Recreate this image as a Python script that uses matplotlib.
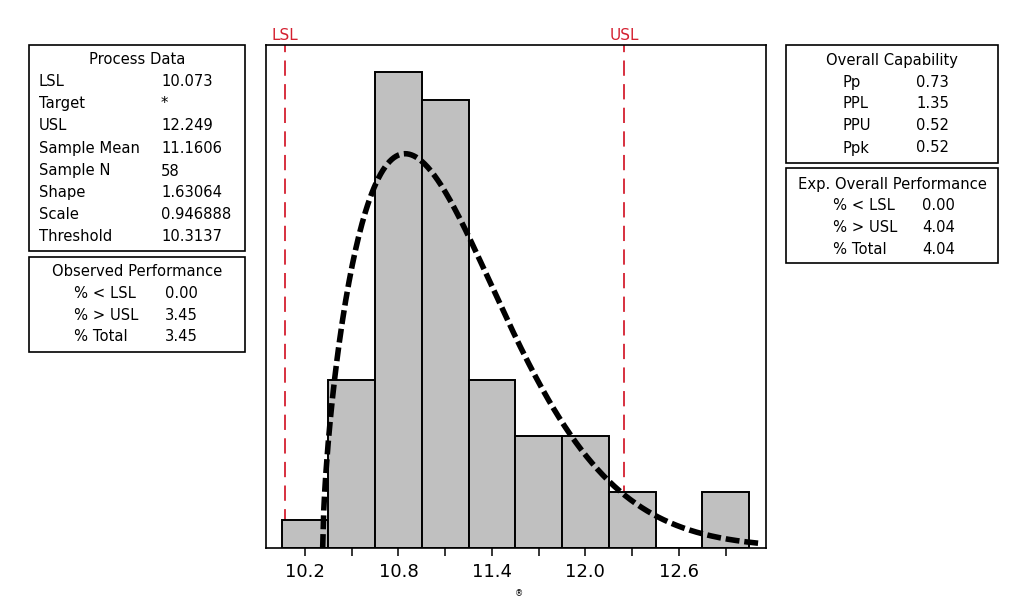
import numpy as np
import matplotlib
matplotlib.use("Agg")
import matplotlib.pyplot as plt
from matplotlib.patches import Rectangle
from matplotlib.ticker import FixedLocator

plt.rcParams['font.family'] = ['DejaVu Sans']
plt.rcParams['lines.scale_dashes'] = False

# ---- data ----
bin_centers = [10.2, 10.5, 10.8, 11.1, 11.4, 11.7, 12.0, 12.3, 12.6, 12.9]
counts = [1, 6, 17, 16, 6, 4, 4, 2, 0, 2]
bin_width = 0.3
LSL = 10.073
USL = 12.249
sample_n = 58
shape = 1.63064
scale = 0.946888
threshold = 10.3137
major_ticks = [10.2, 10.8, 11.4, 12.0, 12.6]
minor_ticks = [10.5, 11.1, 11.7, 12.3, 12.9]

process_labels = ["LSL", "Target", "USL", "Sample Mean", "Sample N", "Shape", "Scale", "Threshold"]
process_values = ["10.073", "*", "12.249", "11.1606", "58", "1.63064", "0.946888", "10.3137"]
obs_labels = ["% < LSL", "% > USL", "% Total"]
obs_values = ["0.00", "3.45", "3.45"]
cap_labels = ["Pp", "PPL", "PPU", "Ppk"]
cap_values = ["0.73", "1.35", "0.52", "0.52"]
exp_labels = ["% < LSL", "% > USL", "% Total"]
exp_values = ["0.00", "4.04", "4.04"]

W, H = 1032, 614
fig = plt.figure(figsize=(W / 100, H / 100), dpi=100)

def fx(px):
    return px / W

def fy(py):
    return 1 - py / H

ax_l, ax_r, ax_t, ax_b = 266, 766, 44.5, 548
ax = fig.add_axes([fx(ax_l), fy(ax_b), fx(ax_r - ax_l), (ax_b - ax_t) / H])

ax.bar(bin_centers, counts, width=bin_width, color="#C0C0C0", edgecolor="black",
       linewidth=1.4, zorder=2)

red = "#D42030"
for v in (LSL, USL):
    ax.axvline(v, color=red, lw=1.3, dashes=(11, 6), zorder=1)

xs = np.linspace(threshold + 1e-6, 13.12, 400)
z = (xs - threshold) / scale
pdf = (shape / scale) * z ** (shape - 1) * np.exp(-z ** shape)
ax.plot(np.concatenate([[threshold], xs]), np.concatenate([[0], pdf * sample_n * bin_width]),
        color="black", lw=4.0, dashes=(10, 3.5), zorder=3)

ax.set_xlim(9.95, 13.159)
ax.set_ylim(0, 18.0)
ax.set_yticks([])
ax.xaxis.set_major_locator(FixedLocator(major_ticks))
ax.xaxis.set_minor_locator(FixedLocator(minor_ticks))
ax.set_xticklabels([f"{t:.1f}" for t in major_ticks])
ax.tick_params(axis="x", which="both", direction="out", length=5.5, width=1.1,
               labelsize=13, pad=5)
for s in ax.spines.values():
    s.set_linewidth(1.2)

# LSL / USL labels
for v, lab in ((LSL, "LSL"), (USL, "USL")):
    ax.text(v, 18.0 + 0.05, lab, color=red, fontsize=11, ha="center", va="bottom",
            transform=ax.transData, clip_on=False)

# ---- text boxes ----
def box(x0, y0, x1, y1):
    fig.patches.append(Rectangle((fx(x0), fy(y1)), fx(x1 - x0), (y1 - y0) / H,
                                 transform=fig.transFigure, fill=False,
                                 edgecolor="black", linewidth=1.2))

def txt(x, y, s, ha="left", size=10.6):
    fig.text(fx(x), fy(y), s, ha=ha, va="center", fontsize=size)

# Process Data
box(29, 45, 245, 251)
txt(137, 60, "Process Data", ha="center")
rows_y = [81.7, 103.3, 126, 148.3, 171, 192.7, 214.3, 236.7]
for yy, l, v in zip(rows_y, process_labels, process_values):
    txt(39, yy, l)
    txt(161, yy, v)

# Observed Performance
box(29, 257, 245, 352)
txt(137, 271, "Observed Performance", ha="center")
for yy, l, v in zip([294, 315.5, 336.5], obs_labels, obs_values):
    txt(74, yy, l)
    txt(165, yy, v)

# Overall Capability
box(786, 45, 998, 163)
txt(892, 61, "Overall Capability", ha="center")
for yy, l, v in zip([82.5, 104, 126, 148], cap_labels, cap_values):
    txt(843, yy, l)
    txt(916, yy, v)

# Exp. Overall Performance
box(786, 168, 998, 263)
txt(892, 184, "Exp. Overall Performance", ha="center")
for yy, l, v in zip([206, 228, 249.5], exp_labels, exp_values):
    txt(833, yy, l)
    txt(922, yy, v)

fig.text(fx(519), fy(594), "®", ha="center", va="center", fontsize=6)

fig.savefig("out.png", dpi=100)
